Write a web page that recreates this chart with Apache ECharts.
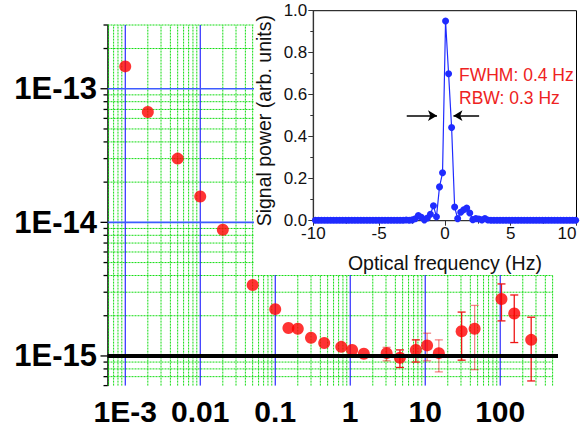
<!DOCTYPE html>
<html>
<head>
<meta charset="utf-8">
<script src="https://cdn.jsdelivr.net/npm/echarts@6/dist/echarts.min.js"></script>
<style>
  html, body { margin: 0; padding: 0; background: #fff; }
  #chart { width: 584px; height: 431px; }
</style>
</head>
<body>
<div id="chart"></div>
<script>
// Fractional frequency instability versus averaging time (s)
const tau = [0.001, 0.002, 0.005, 0.01, 0.02, 0.05, 0.1, 0.15, 0.2, 0.3, 0.45, 0.76, 1.06, 1.52,
             3.06, 4.6, 7.5, 10.6, 15.2, 30.6, 45.6, 104, 154, 259];
const deviation = [1.47e-13, 6.7e-14, 3.0e-14, 1.56e-14, 8.8e-15, 3.4e-15, 2.24e-15, 1.62e-15, 1.6e-15,
                   1.37e-15, 1.25e-15, 1.17e-15, 1.11e-15, 1.04e-15,
                   1.05e-15, 0.97e-15, 1.11e-15, 1.2e-15, 1.05e-15, 1.53e-15, 1.6e-15, 2.67e-15, 2.08e-15, 1.32e-15];
const deviationLow = [null, null, null, null, null, null, null, null, null, null, null, null, null, null,
                      0.92e-15, 0.82e-15, 0.90e-15, 0.92e-15, 0.76e-15, 0.93e-15, 0.79e-15, 1.83e-15, 1.26e-15, 0.65e-15];
const deviationHigh = [null, null, null, null, null, null, null, null, null, null, null, null, null, null,
                       1.16e-15, 1.11e-15, 1.32e-15, 1.48e-15, 1.32e-15, 2.13e-15, 2.39e-15, 3.46e-15, 2.86e-15, 1.95e-15];
const floorLevel = 1e-15;

const xTickLabels = [['1E-3', -3], ['0.01', -2], ['0.1', -1], ['1', 0], ['10', 1], ['100', 2]];
const yTickLabels = [['1E-15', -15], ['1E-14', -14], ['1E-13', -13]];

// Beat-note spectrum (inset)
const spectrumFreq = [-9.84, -9.61, -9.38, -9.15, -8.92, -8.69, -8.46, -8.23, -8.00, -7.77, -7.54, -7.31,
  -7.08, -6.85, -6.62, -6.39, -6.16, -5.93, -5.70, -5.47, -5.24, -5.01, -4.78, -4.55, -4.32, -4.09,
  -3.86, -3.63, -3.40, -3.17, -2.94, -2.71, -2.48, -2.25, -2.02, -1.79, -1.56, -1.33, -1.10, -0.87,
  -0.64, -0.41, -0.18, 0.05, 0.28, 0.51, 0.74, 0.97, 1.20, 1.43, 1.66, 1.89, 2.12, 2.35, 2.58, 2.81,
  3.04, 3.27, 3.50, 3.73, 3.96, 4.19, 4.42, 4.65, 4.88, 5.11, 5.34, 5.57, 5.80, 6.03, 6.26, 6.49,
  6.72, 6.95, 7.18, 7.41, 7.64, 7.87, 8.10, 8.33, 8.56, 8.79, 9.02, 9.25, 9.48, 9.71, 9.94];
const spectrumPower = [0.002, 0.002, 0.002, 0.002, 0.002, 0.002, 0.002, 0.002, 0.002, 0.002, 0.002, 0.002,
  0.002, 0.002, 0.002, 0.002, 0.002, 0.002, 0.002, 0.002, 0.002, 0.002, 0.002, 0.002, 0.002, 0.002,
  0.002, 0.002, 0.002, 0.002, 0.003, 0.002, 0.004, 0.009, 0.025, 0.016, 0.004, 0.013, 0.031, 0.071,
  0.019, 0.161, 0.228, 0.951, 0.700, 0.444, 0.065, 0.010, 0.040, 0.052, 0.060, 0.037, 0.005, 0.010,
  0.008, 0.004, 0.010, 0.003, 0.002, 0.002, 0.002, 0.002, 0.002, 0.002, 0.002, 0.002, 0.002, 0.002,
  0.002, 0.002, 0.002, 0.002, 0.002, 0.002, 0.002, 0.002, 0.002, 0.002, 0.002, 0.002, 0.002, 0.002,
  0.002, 0.002, 0.002, 0.002, 0.002];
const halfMaxLevel = 0.5;
const fwhmArrowLeft = [-2.9, -0.6];
const fwhmArrowRight = [2.6, 0.65];
const spectrumNotes = ['FWHM: 0.4 Hz', 'RBW: 0.3 Hz'];

// ---- layout / styling ----
const X_MIN = 5.8e-4, X_MAX = 590, Y_MIN = 6e-16, Y_MAX = 3e-13;
const GRID_X_END = 500;
const FONT = '"Liberation Sans", Arial, Helvetica, sans-serif';
const fadedBars = new Set([14, 17, 18, 20]);

const log10 = v => Math.log10(v);
const isDecade = v => Math.abs(log10(v) - Math.round(log10(v))) < 1e-6;
const labelFor = (table, v) => {
  if (!isDecade(v)) return '';
  const row = table.find(r => r[1] === Math.round(log10(v)));
  return row ? row[0] : '';
};

function minorValues(kFrom, kTo, lo, hi) {
  const out = [];
  for (let k = kFrom; k <= kTo; k++) {
    for (let m = 2; m <= 9; m++) {
      const v = +(m * Math.pow(10, k)).toPrecision(3);
      if (v > lo * 1.001 && v < hi * 1.001) out.push(v);
    }
  }
  return out;
}

// grid lines: each is [x1, y1, x2, y2, style]
const STYLE_MINOR = { stroke: '#12dc12', lineWidth: 1, lineDash: [2, 1] };
const STYLE_DECADE_V = { stroke: '#0000ff', lineWidth: 1 };
const STYLE_DECADE_H = { stroke: '#3d5cff', lineWidth: 1.6 };
const gridLines = [];
minorValues(-4, 2, X_MIN, GRID_X_END).forEach(v => gridLines.push([v, Y_MIN, v, Y_MAX, STYLE_MINOR]));
minorValues(-16, -13, Y_MIN, Y_MAX).forEach(v => gridLines.push([X_MIN, v, GRID_X_END, v, STYLE_MINOR]));
xTickLabels.forEach(r => {
  const v = Math.pow(10, r[1]);
  gridLines.push([v, Y_MIN, v, Y_MAX, STYLE_DECADE_V]);
});
[1e-14, 1e-13].forEach(v => gridLines.push([X_MIN, v, GRID_X_END, v, STYLE_DECADE_H]));

// left-axis tick marks (decades long, 2..9 short)
const yTickValues = yTickLabels.map(r => Math.pow(10, r[1]))
  .concat(minorValues(-16, -13, Y_MIN * 0.99, Y_MAX));

const errData = [], errFadedData = [];
tau.forEach((t, i) => {
  if (deviationLow[i] == null) return;
  (fadedBars.has(i) ? errFadedData : errData).push([t, deviationLow[i], deviationHigh[i]]);
});

function errorBarRenderer(color) {
  return function (params, api) {
    const lo = api.coord([api.value(0), api.value(1)]);
    const hi = api.coord([api.value(0), api.value(2)]);
    const w = 4;
    const style = { stroke: color, lineWidth: 1.3 };
    return {
      type: 'group',
      children: [
        { type: 'line', shape: { x1: lo[0], y1: lo[1], x2: hi[0], y2: hi[1] }, style },
        { type: 'line', shape: { x1: lo[0] - w, y1: lo[1], x2: lo[0] + w, y2: lo[1] }, style },
        { type: 'line', shape: { x1: hi[0] - w, y1: hi[1], x2: hi[0] + w, y2: hi[1] }, style }
      ]
    };
  };
}

const chart = echarts.init(document.getElementById('chart'), null, { renderer: 'svg' });

chart.setOption({
  animation: false,
  backgroundColor: '#fff',
  textStyle: { fontFamily: FONT },
  grid: [
    { left: 107.5, right: 26, top: 25, bottom: 45.4, outerBoundsMode: 'none', containLabel: false },
    { left: 313.3, right: 7.5, top: 10.7, bottom: 210.3, outerBoundsMode: 'none', containLabel: false,
      show: true, borderColor: '#000', borderWidth: 1, backgroundColor: 'transparent', z: 55 }
  ],
  xAxis: [
    {
      gridIndex: 0, type: 'log', logBase: 10, min: X_MIN, max: X_MAX,
      axisLine: { show: false, onZero: false }, axisTick: { show: false },
      splitLine: { show: false }, minorTick: { show: false }, minorSplitLine: { show: false },
      axisLabel: {
        fontFamily: FONT, fontSize: 30, fontWeight: 'bold', color: '#000', margin: 11,
        formatter: v => labelFor(xTickLabels, v)
      }
    },
    {
      gridIndex: 1, type: 'value', min: -10, max: 10, interval: 5, z: 60,
      axisLine: { onZero: false, lineStyle: { color: '#333', width: 1.2 } },
      axisTick: { length: 5, lineStyle: { color: '#333', width: 1 } },
      minorTick: { show: true, splitNumber: 2, length: 3, lineStyle: { color: '#333', width: 1 } },
      splitLine: { show: false },
      axisLabel: { fontFamily: FONT, fontSize: 17, color: '#111', margin: 4, alignMaxLabel: 'right' },
      name: 'Optical frequency (Hz)', nameLocation: 'middle', nameGap: 32,
      nameTextStyle: { fontFamily: FONT, fontSize: 19.5, color: '#111' }
    }
  ],
  yAxis: [
    {
      gridIndex: 0, type: 'log', logBase: 10, min: Y_MIN, max: Y_MAX,
      axisLine: { show: true, onZero: false, lineStyle: { color: '#000', width: 1.5 } },
      axisTick: { show: false }, splitLine: { show: false },
      minorTick: { show: false }, minorSplitLine: { show: false },
      axisLabel: {
        fontFamily: FONT, fontSize: 31, fontWeight: 'bold', color: '#000', margin: 10.5,
        formatter: v => labelFor(yTickLabels, v)
      }
    },
    {
      gridIndex: 1, type: 'value', min: 0, max: 1, interval: 0.2, z: 60,
      axisLine: { onZero: false, lineStyle: { color: '#333', width: 1.2 } },
      axisTick: { length: 5, lineStyle: { color: '#333', width: 1 } },
      minorTick: { show: true, splitNumber: 2, length: 3, lineStyle: { color: '#333', width: 1 } },
      splitLine: { show: false },
      axisLabel: { fontFamily: FONT, fontSize: 17, color: '#111', margin: 6, formatter: v => v.toFixed(1) },
      name: 'Signal power (arb. units)', nameLocation: 'middle', nameGap: 39,
      nameTextStyle: { fontFamily: FONT, fontSize: 19.5, color: '#111', padding: [0, 10, 0, 0] }
    }
  ],
  graphic: [
    { type: 'rect', shape: { x: 254, y: 0, width: 330, height: 275 }, style: { fill: '#fff' }, z: 50, silent: true },
    { type: 'text', x: 459, y: 75, z: 70, silent: true,
      style: { text: spectrumNotes[0], fill: '#ee2222', font: '17.5px ' + FONT, verticalAlign: 'middle' } },
    { type: 'text', x: 459, y: 98, z: 70, silent: true,
      style: { text: spectrumNotes[1], fill: '#ee2222', font: '17.5px ' + FONT, verticalAlign: 'middle' } }
  ],
  series: [
    {
      name: 'grid lines', type: 'custom', xAxisIndex: 0, yAxisIndex: 0, z: 1, silent: true, clip: false,
      data: gridLines.map(l => [l[0], l[1]]),
      encode: { x: 0, y: 1 },
      renderItem: (params, api) => {
        const l = gridLines[params.dataIndex];
        const a = api.coord([l[0], l[1]]);
        const b = api.coord([l[2], l[3]]);
        return { type: 'line', shape: { x1: a[0], y1: a[1], x2: b[0], y2: b[1] }, style: Object.assign({}, l[4]) };
      }
    },
    {
      name: 'axis ticks', type: 'custom', xAxisIndex: 0, yAxisIndex: 0, clip: false, z: 2, silent: true,
      data: yTickValues.map(v => [X_MIN, v]),
      encode: { x: 0, y: 1 },
      renderItem: (params, api) => {
        const p = api.coord([api.value(0), api.value(1)]);
        const len = isDecade(api.value(1)) ? 7 : 4;
        return { type: 'line', shape: { x1: p[0] - len, y1: p[1], x2: p[0], y2: p[1] },
                 style: { stroke: '#000', lineWidth: 1.3 } };
      }
    },
    {
      name: 'error', type: 'custom', xAxisIndex: 0, yAxisIndex: 0, z: 2.5, silent: true,
      data: errData, encode: { x: 0, y: [1, 2] }, renderItem: errorBarRenderer('#ee1515')
    },
    {
      name: 'error faded', type: 'custom', xAxisIndex: 0, yAxisIndex: 0, z: 2.5, silent: true,
      data: errFadedData, encode: { x: 0, y: [1, 2] }, renderItem: errorBarRenderer('rgba(236,20,20,0.5)')
    },
    {
      name: 'deviation', type: 'scatter', xAxisIndex: 0, yAxisIndex: 0, z: 3,
      symbol: 'circle', symbolSize: 12, itemStyle: { color: '#ff0000' },
      data: tau.map((t, i) => [t, deviation[i]])
    },
    {
      name: 'floor', type: 'line', xAxisIndex: 0, yAxisIndex: 0, data: [], z: 4, silent: true,
      markLine: { silent: true, z: 4, symbol: ['none', 'none'], label: { show: false },
        emphasis: { disabled: true }, animation: false,
        lineStyle: { color: '#000', width: 4, type: 'solid' },
        data: [[{ coord: [X_MIN, floorLevel] }, { coord: [X_MAX, floorLevel] }]] }
    },
    {
      name: 'spectrum', type: 'line', xAxisIndex: 1, yAxisIndex: 1, z: 60,
      symbol: 'circle', symbolSize: 7, showAllSymbol: true,
      lineStyle: { color: '#1f2bff', width: 1.2 }, itemStyle: { color: '#1f2bff' },
      data: spectrumFreq.map((f, i) => [f, spectrumPower[i]]),
      markLine: { silent: true, z: 65, symbol: ['none', 'arrow'], symbolSize: [8, 9],
        label: { show: false }, emphasis: { disabled: true }, animation: false,
        lineStyle: { color: '#000', width: 1.5, type: 'solid' },
        data: [
          [{ coord: [fwhmArrowLeft[0], halfMaxLevel] }, { coord: [fwhmArrowLeft[1], halfMaxLevel] }],
          [{ coord: [fwhmArrowRight[0], halfMaxLevel] }, { coord: [fwhmArrowRight[1], halfMaxLevel] }]
        ] }
    }
  ]
});
</script>
</body>
</html>
